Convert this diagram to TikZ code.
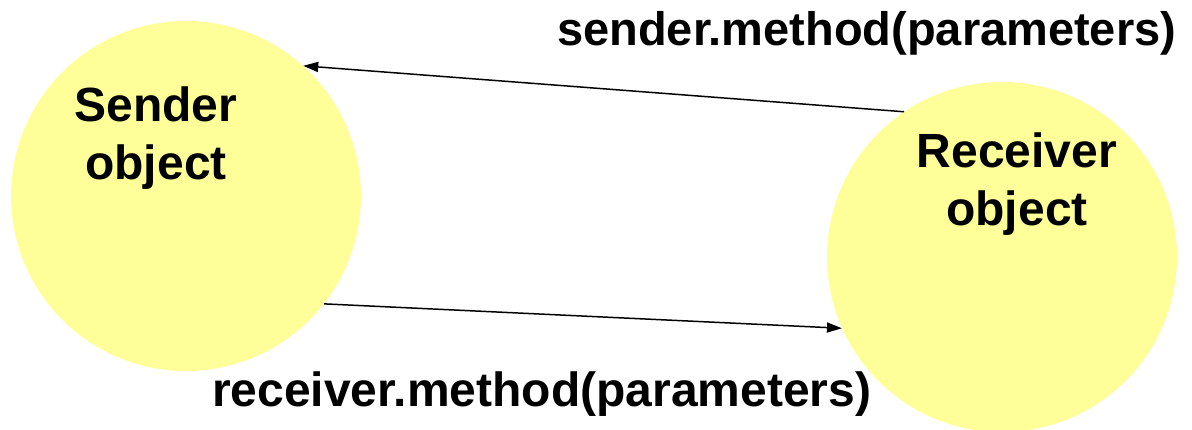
\documentclass[tikz,border=0pt]{standalone}
\usepackage{fontspec}
\setmainfont{Liberation Sans}
\usetikzlibrary{arrows.meta}
\definecolor{objyellow}{HTML}{FFFF99}
\tikzset{
  obj/.style={circle, fill=objyellow, draw=none, minimum size=350pt, inner sep=0pt},
  objtext/.style={align=center, anchor=base, inner sep=0pt, font=\fontsize{48}{57.5}\selectfont\bfseries},
  msg/.style={anchor=base west, inner sep=0pt, font=\fontsize{47}{56}\selectfont\bfseries},
  call/.style={line width=1.5pt, -{Triangle[length=15pt,width=10pt]}}
}
\begin{document}
\begin{tikzpicture}[x=1pt,y=-1pt]
\useasboundingbox (0,0) rectangle (1192,429);
\node[obj] (send) at (186,196) {};
\node[obj] (recv) at (1002,257) {};
\node[objtext] (sendtxt) at (156,179) {Sender\\object};
\node[objtext] (recvtxt) at (1017,225) {Receiver\\object};
\node[msg] (toplbl) at (557,45) {sender.method(parameters)};
\node[msg, font=\fontsize{48}{56}\selectfont\bfseries] (botlbl) at (212,406) {receiver.method(parameters)};
\draw[call] (recv.124.2) -- (send.48.5);
\draw[call] (send.-38) -- (recv.-156.8);
\end{tikzpicture}
\end{document}
